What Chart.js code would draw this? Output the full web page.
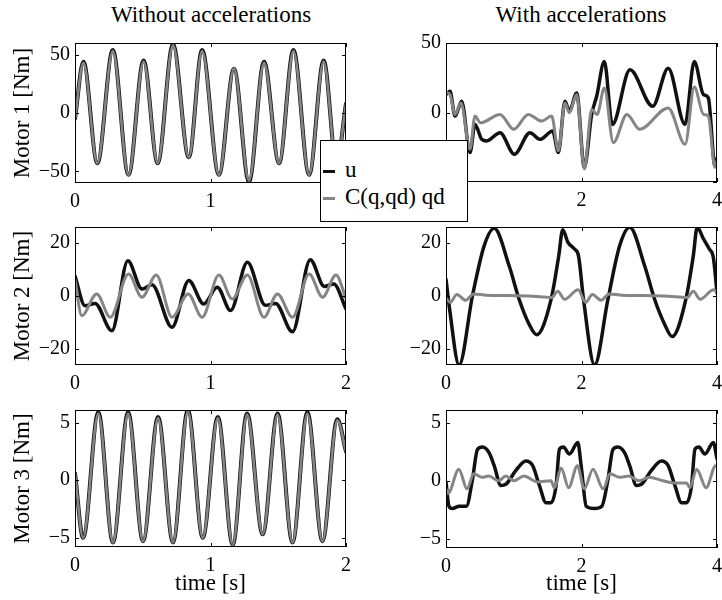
<!DOCTYPE html>
<html>
<head>
<meta charset="utf-8">
<script src="https://cdn.jsdelivr.net/npm/chart.js@4.4.1/dist/chart.umd.min.js"></script>
<style>
  body { margin: 0; background: #fff; }
  #page { position: relative; width: 722px; height: 600px; overflow: hidden; font-family: 'Liberation Serif', 'Times New Roman', serif; color: #000; }
  #page canvas { position: absolute; }
  .col-title { position: absolute; top: 2px; width: 300px; font-size: 23px; text-align: center; }
  #legend { position: absolute; left: 320px; top: 140px; width: 146px; height: 80px; border: 1px solid #000; background: #fff; z-index: 5; }
  .legend__item { position: absolute; left: 2px; height: 26px; line-height: 26px; font-size: 23px; white-space: nowrap; }
  .legend__line { display: inline-block; width: 12px; height: 3px; vertical-align: middle; margin-right: 10px; }
</style>
</head>
<body>
<div id="page">
  <div class="col-title" style="left: 61px;">Without accelerations</div>
  <div class="col-title" style="left: 431px;">With accelerations</div>
  <div id="legend"></div>
</div>
<script>
const seriesNames = ['u', 'C(q,qd) qd'];
const xTicksShort = [0, 1, 2];
const xTicksLong = [0, 2, 4];
const yTicksM1 = [-50, 0, 50];
const yTicksM2 = [-20, 0, 20];
const yTicksM3 = [-5, 0, 5];

// Motor 1, without accelerations
const m1L_t = [0, 0.062, 0.165, 0.279, 0.395, 0.506, 0.61, 0.723, 0.84, 0.938, 1.062, 1.173, 1.284, 1.395, 1.506, 1.612, 1.728, 1.835, 1.93, 2.0];
const m1L_u = [-5, 44, -43, 54, -53, 45, -43, 59, -38, 54, -53, 38, -59, 44, -43, 54, -53, 45, -43, 8];
const m1L_c = [-5, 43, -43, 53, -53, 44, -43, 58, -38, 53, -53, 38, -58, 43, -43, 53, -53, 44, -43, 8];

// Motor 2, without accelerations
const m2L_t = [0, 0.074, 0.148, 0.272, 0.39, 0.494, 0.568, 0.716, 0.84, 0.95, 1.05, 1.148, 1.272, 1.405, 1.48, 1.605, 1.736, 1.84, 1.91, 2.0];
const m2L_u = [7.5, -3.7, -2.8, -13.1, 13.3, 2.6, 4.2, -11.8, 5.8, -3, 3.3, -5.5, 12.7, -3.5, -2.8, -13.5, 13.7, 3.6, 4.5, -4.9];
const m2L_ct = [0, 0.05, 0.16, 0.26, 0.395, 0.494, 0.6, 0.716, 0.835, 0.938, 1.062, 1.16, 1.272, 1.395, 1.494, 1.605, 1.728, 1.827, 1.926, 2.0];
const m2L_c = [6, -7.4, 0.8, -8, 8.3, -0.5, 7.9, -8, 0.8, -8, 7.9, -1.1, 7.9, -8, 0.8, -8, 8.3, -0.5, 7.9, -1];

// Motor 3, without accelerations
const m3L_t = [0, 0.06, 0.172, 0.28, 0.392, 0.502, 0.613, 0.723, 0.833, 0.943, 1.054, 1.164, 1.27, 1.385, 1.495, 1.605, 1.715, 1.826, 1.936, 2.0];
const m3L_u = [0.6, -5.0, 5.9, -5.4, 5.9, -5.3, 5.5, -5.4, 6.1, -5.0, 5.5, -5.6, 5.8, -4.7, 5.8, -5.4, 5.9, -5.3, 5.3, 2.5];
const m3L_c = [0.6, -5.0, 5.8, -5.4, 5.8, -5.3, 5.4, -5.4, 6.0, -5.0, 5.4, -5.6, 5.7, -4.7, 5.7, -5.4, 5.8, -5.3, 5.2, 2.5];

// Motor 1, with accelerations
const m1R_t = [0, 0.059, 0.133, 0.231, 0.354, 0.428, 0.527, 0.6, 0.797, 1.009, 1.24, 1.387, 1.574, 1.658, 1.756, 1.82, 1.929, 2.042, 2.15, 2.224, 2.337, 2.455, 2.716, 3.05, 3.28, 3.528, 3.665, 3.8, 3.872, 3.97, 4.0];
const m1R_u = [13, 15.2, -2.6, 8.1, -28.8, -8.6, -19.3, -20.5, -14.5, -30, -14.5, -19.3, -13.3, -28.8, 8.1, 0.9, 14, -39.5, -1.4, 11.7, 36.7, -8.6, 30.7, 4.5, 31.9, -8.6, 36.7, 12.9, 10.5, -38.3, -33];
const m1R_ct = [0, 0.059, 0.133, 0.22, 0.354, 0.428, 0.51, 0.797, 1.0, 1.215, 1.41, 1.56, 1.658, 1.756, 1.82, 1.929, 2.042, 2.15, 2.23, 2.337, 2.47, 2.67, 2.86, 3.28, 3.53, 3.665, 3.8, 3.872, 3.97, 4.0];
const m1R_c = [14.6, 13, -1.4, 6.9, -26.4, -2.6, -7.4, -1.4, -12.1, -1.4, -6.2, -2.6, -27.6, 6.9, -0.2, 12.9, -40.7, 2.1, -1.4, 17.6, -21.7, -1.4, -12.1, 3.3, -22.9, 18.3, -1.4, -2.6, -39.5, -34.5];

// Motor 2, with accelerations
const m2R_t = [0, 0.054, 0.193, 0.39, 0.563, 0.711, 0.933, 1.08, 1.23, 1.338, 1.551, 1.664, 1.723, 1.8, 1.896, 1.956, 2.03, 2.193, 2.39, 2.563, 2.711, 2.933, 3.08, 3.23, 3.338, 3.54, 3.65, 3.708, 3.8, 3.886, 3.946, 4.0];
const m2R_u = [6.3, -5.1, -26, 0, 18.9, 25.5, 11.3, -1.3, -10.8, -14.6, -1.3, 15.1, 25, 20.2, 17.7, 15.1, -1.3, -26, -1.3, 18.9, 25.9, 11.3, -1.3, -10.8, -15.3, -1.3, 15.1, 25.9, 21.5, 17.7, 14.5, 1.2];
const m2R_ct = [0, 0.06, 0.16, 0.29, 0.41, 0.6, 0.9, 1.2, 1.45, 1.56, 1.65, 1.75, 1.95, 2.06, 2.16, 2.29, 2.41, 2.6, 2.9, 3.2, 3.45, 3.56, 3.65, 3.75, 3.95, 4.0];
const m2R_c = [-0.8, -2.4, 0.6, -1.6, 0.8, 0.3, 0.2, 0, -0.4, -0.6, 1.8, -1.2, 2.4, -2.4, 0.6, -1.6, 0.8, 0.3, 0.2, 0, -0.4, -0.6, 1.8, -1.2, 2.4, 1.5];

// Motor 3, with accelerations
const m3R_t = [0, 0.044, 0.094, 0.193, 0.3, 0.39, 0.464, 0.538, 0.637, 0.711, 0.81, 0.884, 1.032, 1.18, 1.279, 1.378, 1.477, 1.551, 1.625, 1.674, 1.733, 1.822, 1.945, 1.995, 2.07, 2.19, 2.3, 2.39, 2.464, 2.538, 2.637, 2.711, 2.81, 2.884, 3.032, 3.18, 3.279, 3.378, 3.477, 3.551, 3.625, 3.674, 3.733, 3.822, 3.945, 4.0];
const m3R_u = [-0.1, -2.2, -2.4, -2.2, -2.2, 0.1, 2.7, 2.9, 2.4, 1.3, -0.4, -0.3, 0.9, 1.7, 1.3, -0.4, -1.9, -1.9, -0.4, 2.7, 2.9, 2.3, 3.3, 1.3, -2.2, -2.4, -2.2, 0.1, 2.7, 2.9, 2.4, 1.3, -0.4, -0.3, 0.9, 1.7, 1.3, -0.4, -1.9, -1.9, -0.4, 2.7, 2.9, 2.3, 3.3, 1.9];
const m3R_ct = [0, 0.03, 0.19, 0.31, 0.41, 0.53, 0.63, 0.78, 0.88, 1.0, 1.15, 1.35, 1.55, 1.6, 1.7, 1.81, 1.94, 2.04, 2.17, 2.32, 2.42, 2.56, 2.7, 2.85, 3.0, 3.2, 3.4, 3.55, 3.6, 3.7, 3.84, 3.98, 4.0];
const m3R_c = [-0.7, -1.1, 1.0, -0.7, 0.6, 0.3, 0.4, 0, 0.4, 0, 0.4, -0.1, 0, -0.6, 1.1, -0.6, 1.3, -0.7, 1.0, -0.7, 0.6, 0.3, 0.4, 0, 0.3, 0, -0.2, -0.2, -0.6, 1.0, -0.6, 1.3, 1.2];

const FONT = "'Liberation Serif', 'Times New Roman', serif";
const U_COLOR = '#111111';
const C_COLOR = '#858585';

const pts = (t, v) => t.map((x, i) => ({ x: x, y: v[i] }));

// box + inward tick marks, like the matlab axes
const framePlugin = {
    id: 'frame',
    afterDatasetsDraw(chart) {
        const { ctx, chartArea: a, scales: { x, y } } = chart;
        ctx.save();
        ctx.strokeStyle = '#000';
        ctx.lineWidth = 1;
        ctx.strokeRect(Math.round(a.left) + 0.5, Math.round(a.top) + 0.5, Math.round(a.width) - 1, Math.round(a.height) - 1);
        ctx.beginPath();
        x.ticks.forEach((t) => {
            const px = Math.round(x.getPixelForValue(t.value)) + 0.5;
            ctx.moveTo(px, a.bottom); ctx.lineTo(px, a.bottom - 4);
            ctx.moveTo(px, a.top); ctx.lineTo(px, a.top + 4);
        });
        y.ticks.forEach((t) => {
            const py = Math.round(y.getPixelForValue(t.value)) + 0.5;
            ctx.moveTo(a.left, py); ctx.lineTo(a.left + 4, py);
            ctx.moveTo(a.right, py); ctx.lineTo(a.right - 4, py);
        });
        ctx.stroke();
        ctx.restore();
    }
};

function makePanel(p) {
    const canvas = document.createElement('canvas');
    canvas.width = p.w;
    canvas.height = p.h;
    canvas.style.left = p.left + 'px';
    canvas.style.top = p.top + 'px';
    document.getElementById('page').appendChild(canvas);

    new Chart(canvas, {
        type: 'line',
        data: {
            datasets: [
                {
                    label: seriesNames[0],
                    data: pts(p.ut, p.u),
                    borderColor: U_COLOR,
                    borderWidth: p.overlap ? 4 : 3.5,
                    order: 1,
                },
                {
                    label: seriesNames[1],
                    data: pts(p.ct, p.c),
                    borderColor: C_COLOR,
                    borderWidth: p.overlap ? 2.6 : 3,
                    order: 0,
                },
            ]
        },
        options: {
            responsive: false,
            animation: false,
            devicePixelRatio: 1,
            layout: { padding: { top: 12, right: p.padR, bottom: 0, left: 0 } },
            elements: {
                point: { radius: 0 },
                line: { cubicInterpolationMode: 'monotone', borderCapStyle: 'round', borderJoinStyle: 'round' }
            },
            plugins: {
                legend: { display: false },
                tooltip: { enabled: false },
            },
            scales: {
                x: {
                    type: 'linear',
                    min: 0,
                    max: p.xMax,
                    afterBuildTicks: (axis) => { axis.ticks = p.xTicks.map((v) => ({ value: v })); },
                    afterFit: (axis) => {
                        axis.height = p.xH;
                        axis.paddingLeft = 0;
                        axis.paddingRight = 0;
                    },
                    grid: { display: false, drawTicks: false },
                    border: { display: false },
                    ticks: { color: '#000', padding: 7, maxRotation: 0, font: { family: FONT, size: 20 } },
                    title: {
                        display: !!p.xTitle,
                        text: p.xTitle || '',
                        color: '#000',
                        padding: { top: 0, bottom: 2 },
                        font: { family: FONT, size: 23 }
                    }
                },
                y: {
                    min: p.yMin,
                    max: p.yMax,
                    afterBuildTicks: (axis) => { axis.ticks = p.yTicks.map((v) => ({ value: v })); },
                    afterFit: (axis) => {
                        axis.width = p.yW;
                        axis.paddingTop = 0;
                        axis.paddingBottom = 0;
                    },
                    grid: { display: false, drawTicks: false },
                    border: { display: false },
                    ticks: {
                        color: '#000',
                        padding: 5,
                        font: { family: FONT, size: 20 },
                        callback: (v) => (v < 0 ? '\u2212' + Math.abs(v) : String(v))
                    },
                    title: {
                        display: !!p.yTitle,
                        text: p.yTitle || '',
                        color: '#000',
                        padding: { top: 9, bottom: 0 },
                        font: { family: FONT, size: 23 }
                    }
                }
            }
        },
        plugins: [framePlugin]
    });
}

const panels = [
    { left: 0, top: 31, w: 360, h: 184, yW: 75, xH: 32, padR: 14, xMax: 2, xTicks: xTicksShort, yMin: -60, yMax: 60, yTicks: yTicksM1, yTitle: 'Motor 1 [Nm]', ut: m1L_t, u: m1L_u, ct: m1L_t, c: m1L_c, overlap: true },
    { left: 0, top: 215, w: 360, h: 182, yW: 75, xH: 32, padR: 14, xMax: 2, xTicks: xTicksShort, yMin: -26, yMax: 26, yTicks: yTicksM2, yTitle: 'Motor 2 [Nm]', ut: m2L_t, u: m2L_u, ct: m2L_ct, c: m2L_c },
    { left: 0, top: 398, w: 360, h: 202, yW: 75, xH: 53, padR: 14, xMax: 2, xTicks: xTicksShort, yMin: -5.8, yMax: 6.1, yTicks: yTicksM3, yTitle: 'Motor 3 [Nm]', xTitle: 'time [s]', ut: m3L_t, u: m3L_u, ct: m3L_t, c: m3L_c, overlap: true },
    { left: 360, top: 31, w: 362, h: 184, yW: 86, xH: 33, padR: 5, xMax: 4, xTicks: xTicksLong, yMin: -50, yMax: 50, yTicks: yTicksM1, ut: m1R_t, u: m1R_u, ct: m1R_ct, c: m1R_c },
    { left: 360, top: 215, w: 362, h: 182, yW: 86, xH: 32, padR: 5, xMax: 4, xTicks: xTicksLong, yMin: -26, yMax: 26, yTicks: yTicksM2, ut: m2R_t, u: m2R_u, ct: m2R_ct, c: m2R_c },
    { left: 360, top: 398, w: 362, h: 202, yW: 86, xH: 52, padR: 5, xMax: 4, xTicks: xTicksLong, yMin: -5.8, yMax: 6.1, yTicks: yTicksM3, xTitle: 'time [s]', ut: m3R_t, u: m3R_u, ct: m3R_ct, c: m3R_c },
];

panels.forEach(makePanel);

// legend box floating between the two top panels
const legend = document.getElementById('legend');
[U_COLOR, C_COLOR].forEach((color, i) => {
    const item = document.createElement('div');
    item.className = 'legend__item';
    item.style.top = (16 + i * 27) + 'px';
    item.innerHTML = '<span class="legend__line" style="background:' + color + '"></span>' + seriesNames[i];
    legend.appendChild(item);
});
</script>
</body>
</html>
